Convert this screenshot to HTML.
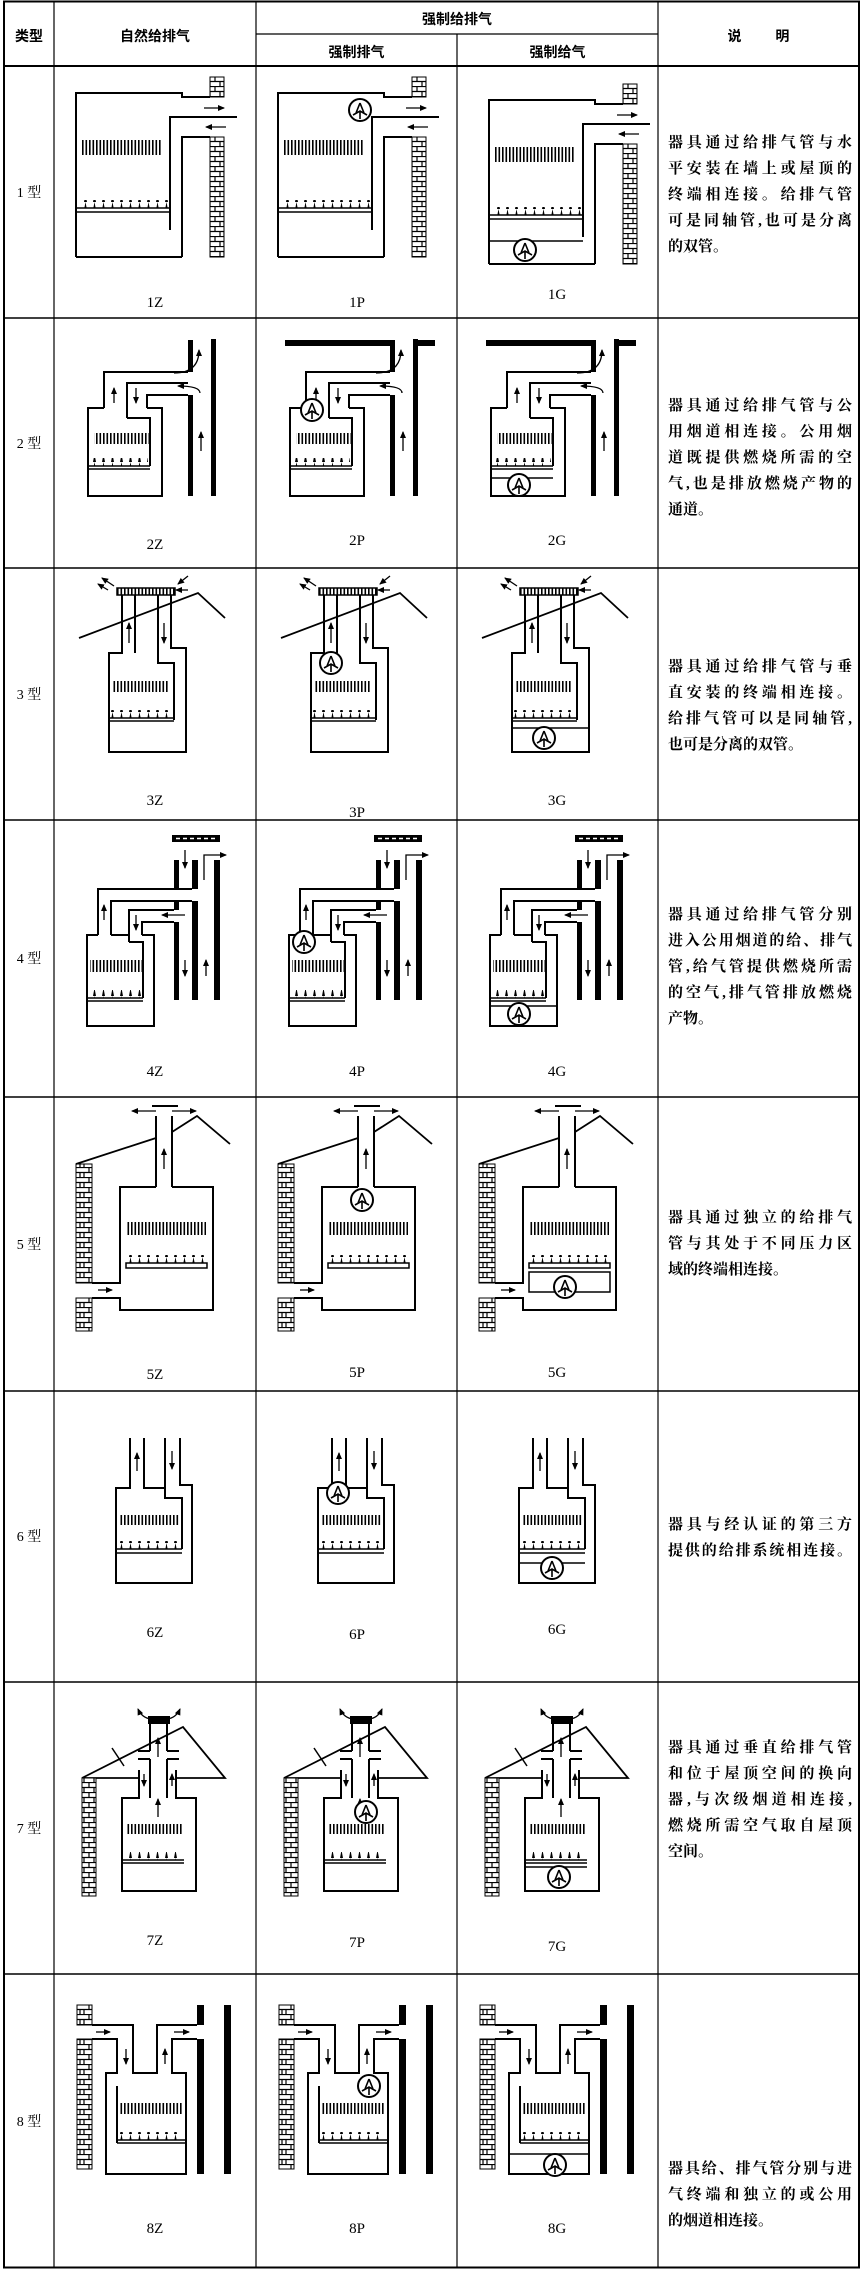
<!DOCTYPE html>
<html><head><meta charset="utf-8">
<style>
html,body{margin:0;padding:0;background:#fff;}
body{width:862px;height:2271px;position:relative;overflow:hidden;font-family:"Liberation Serif","Noto Serif CJK SC",serif;}
svg{position:absolute;left:0;top:0;}
.d{position:absolute;left:668px;width:184px;font-family:"Liberation Serif","Noto Serif CJK SC",serif;font-size:15px;font-weight:bold;line-height:26px;color:#000;}
.d div{white-space:nowrap;}
.j{text-align:justify;text-align-last:justify;}
.h{position:absolute;font-family:"Liberation Sans","Noto Sans CJK SC",sans-serif;font-weight:bold;font-size:14px;text-align:center;}
.t{position:absolute;left:4px;width:50px;text-align:center;font-size:14px;font-family:"Liberation Serif","Noto Serif CJK SC",serif;}
.l{position:absolute;width:60px;text-align:center;font-size:15px;font-family:"Liberation Serif",serif;}
.ar path{stroke:#000;stroke-width:1.3;fill:none;marker-end:url(#a);}
</style></head><body>
<svg width="862" height="2271" viewBox="0 0 862 2271" xmlns="http://www.w3.org/2000/svg">
<defs>
<pattern id="fin" width="3.5" height="40" patternUnits="userSpaceOnUse"><rect width="1.6" height="40" fill="#000"/></pattern>
<pattern id="flm" width="9" height="8" patternUnits="userSpaceOnUse"><path d="M3,8 L4.5,0 L6,8Z" fill="#000"/></pattern>
<pattern id="brk" width="14" height="10" patternUnits="userSpaceOnUse"><rect width="14" height="10" fill="#fff"/><path d="M0,0.5H14M0,5.5H14M7,0V5M2,5V10M12,5V10" stroke="#000" stroke-width="1.2"/></pattern>
<marker id="a" markerWidth="7" markerHeight="6" refX="6" refY="3" orient="auto" markerUnits="userSpaceOnUse"><path d="M0,0L7,3L0,6z" fill="#000"/></marker>
<g id="fan"><circle r="11" fill="#fff" stroke="#000" stroke-width="2"/><path d="M0,-7 L-4,3 M0,-7 L4,3 M-7,5 L0,1 L7,5 M0,1 V9" stroke="#000" stroke-width="1.6" fill="none"/></g>

<g id="r1" fill="none" stroke="#000" stroke-width="2">
<path d="M22,191 V27 H128 V31 H156"/><path d="M116,164 V51 H183"/><path d="M128,191 V71 H156"/><path d="M22,191 H128"/>
<rect x="156" y="11" width="14" height="20" fill="url(#brk)" stroke-width="1"/>
<rect x="156" y="71" width="14" height="120" fill="url(#brk)" stroke-width="1"/>
<rect x="28" y="74" width="80" height="15" fill="url(#fin)" stroke="none"/>
<rect x="24" y="134" width="90" height="8" fill="url(#flm)" stroke="none"/>
<path d="M22,142 H116 M22,146 H116" stroke-width="1.5"/>
<g class="ar"><path d="M150,42 H170"/><path d="M172,61 H152"/></g>
</g>

<g id="r2" fill="none" stroke="#000" stroke-width="2">
<path d="M50,90 H34 V178 H108 V90 H93"/><path d="M50,90 V54 H134"/><path d="M73,100 V65 H134"/><path d="M93,90 V77 H134"/>
<path d="M73,100 H96 V148"/>
<path d="M34,148 H96 M34,151 H96" stroke-width="1.5"/>
<rect x="36" y="140" width="58" height="8" fill="url(#flm)" stroke="none"/>
<rect x="40" y="115" width="55" height="11" fill="url(#fin)" stroke="none"/>
<rect x="134" y="22" width="5" height="32" fill="#000" stroke="none"/>
<rect x="134" y="77" width="5" height="101" fill="#000" stroke="none"/>
<rect x="157" y="21" width="5" height="157" fill="#000" stroke="none"/>
<g class="ar"><path d="M60,85 V70"/><path d="M82,70 V85"/><path d="M147,133 V114"/><path d="M120,55 Q145,55 145,32"/><path d="M146,75 Q146,68 124,68"/></g>
</g>

<g id="r3" fill="none" stroke="#000" stroke-width="2">
<path d="M68,27 V85 H55 V184 H132 V80 H117 V27"/><path d="M81,27 V85"/><path d="M104,27 V95 H120 V152"/>
<path d="M25,70 L144,25 L171,50" stroke-width="1.8"/>
<rect x="63" y="20" width="58" height="7" fill="url(#fin)" stroke-width="1.5"/>
<path d="M55,150 H120 M55,153 H120" stroke-width="1.5"/>
<rect x="57" y="142" width="62" height="8" fill="url(#flm)" stroke="none"/>
<rect x="58" y="113" width="57" height="11" fill="url(#fin)" stroke="none"/>
<g class="ar"><path d="M75,75 V55"/><path d="M110,55 V75"/><path d="M60,18 L48,10"/><path d="M54,22 L44,16"/><path d="M134,8 L124,16"/><path d="M134,22 L122,22"/></g>
</g>

<g id="r4" fill="none" stroke="#000" stroke-width="2">
<path d="M44,115 H33 V206 H100 V115 H88"/><path d="M44,115 V69 H138"/><path d="M57,115 V81 H138"/>
<path d="M75,122 V90 H120"/><path d="M88,115 V102 H120"/><path d="M57,115 H75 M75,122 H89 V178"/>
<path d="M33,178 H89 M33,181 H89" stroke-width="1.5"/>
<rect x="35" y="170" width="52" height="8" fill="url(#flm)" stroke="none"/>
<rect x="36" y="140" width="52" height="12" fill="url(#fin)" stroke="none"/>
<rect x="120" y="40" width="5" height="29" fill="#000" stroke="none"/>
<rect x="120" y="81" width="5" height="9" fill="#000" stroke="none"/>
<rect x="120" y="102" width="5" height="78" fill="#000" stroke="none"/>
<rect x="138" y="40" width="6" height="29" fill="#000" stroke="none"/>
<rect x="138" y="81" width="6" height="99" fill="#000" stroke="none"/>
<rect x="160" y="40" width="6" height="140" fill="#000" stroke="none"/>
<rect x="118" y="15" width="48" height="7" fill="#000" stroke="none"/>
<path d="M122,18.5 H162" stroke="#fff" stroke-width="1.5" stroke-dasharray="4 3"/>
<g class="ar"><path d="M131,30 V48"/><path d="M131,140 V156"/><path d="M152,156 V140"/><path d="M150,60 V35 H172"/><path d="M50,100 V85"/><path d="M82,95 V110"/><path d="M131,95 H108"/></g>
</g>

<g id="r5" fill="none" stroke="#000" stroke-width="2">
<path d="M102,90 V19 M118,90 V19"/><path d="M98,9 H124"/>
<path d="M102,90 H66 V186 H38"/><path d="M38,201 H66 V213 H159 V90 H118"/>
<rect x="22" y="67" width="16" height="119" fill="url(#brk)" stroke-width="1"/>
<rect x="22" y="201" width="16" height="33" fill="url(#brk)" stroke-width="1"/>
<path d="M22,67 L102,41 M118,35 L143,19 L176,47" stroke-width="1.8"/>
<rect x="72" y="125" width="80" height="13" fill="url(#fin)" stroke="none"/>
<rect x="74" y="158" width="78" height="8" fill="url(#flm)" stroke="none"/>
<rect x="72" y="166" width="81" height="5" stroke-width="1.5"/>
<g class="ar"><path d="M102,14 H78"/><path d="M118,14 H142"/><path d="M110,72 V52"/><path d="M44,193 H58"/></g>
</g>

<g id="r6" fill="none" stroke="#000" stroke-width="2">
<path d="M76,47 V97 H62 V192 H138 V94 H126 V47"/><path d="M90,47 V97 H111"/><path d="M111,47 V107 H128 V158"/>
<path d="M62,158 H128 M62,162 H128" stroke-width="1.5"/>
<rect x="64" y="150" width="62" height="8" fill="url(#flm)" stroke="none"/>
<rect x="66" y="124" width="60" height="10" fill="url(#fin)" stroke="none"/>
<g class="ar"><path d="M83,80 V62"/><path d="M118,60 V78"/></g>
</g>

<g id="r7" fill="none" stroke="#000" stroke-width="2">
<rect x="95" y="35" width="20" height="6" fill="#000"/>
<path d="M96,41 V69 M113,41 V69 M84,69 H96 M113,69 H125 M84,77 H96 M113,77 H125"/>
<path d="M96,77 V116 M113,77 V116"/><path d="M85,88 V116 H68 V209 H142 V116 H122 V88"/>
<path d="M28,96 L129,45 L171,96 H122 M85,96 H28" stroke-width="1.8"/>
<path d="M68,178 H130 M68,181 H130" stroke-width="1.5"/>
<rect x="70" y="170" width="58" height="8" fill="url(#flm)" stroke="none"/>
<rect x="73" y="142" width="55" height="10" fill="url(#fin)" stroke="none"/>
<rect x="28" y="96" width="14" height="118" fill="url(#brk)" stroke-width="1"/>
<path d="M58,66 L70,84" stroke-width="1.5"/>
<g class="ar"><path d="M97,37 Q88,36 84,27"/><path d="M113,37 Q122,36 126,27"/><path d="M104,75 V56"/><path d="M104,135 V117"/><path d="M90,92 V104"/><path d="M118,104 V92"/></g>
</g>

<g id="r8" fill="none" stroke="#000" stroke-width="2">
<path d="M38,51 H79 V99 H103 V51 H143"/><path d="M38,65 H63 V99 H52 V200 H132 V99 H118 V65 H143"/><path d="M63,112 V169"/>
<path d="M63,166 H131 M63,169 H131" stroke-width="1.5"/>
<rect x="65" y="158" width="64" height="8" fill="url(#flm)" stroke="none"/>
<rect x="66" y="129" width="62" height="11" fill="url(#fin)" stroke="none"/>
<rect x="23" y="31" width="15" height="20" fill="url(#brk)" stroke-width="1"/>
<rect x="23" y="65" width="15" height="130" fill="url(#brk)" stroke-width="1"/>
<rect x="143" y="31" width="7" height="20" fill="#000" stroke="none"/>
<rect x="143" y="65" width="7" height="135" fill="#000" stroke="none"/>
<rect x="170" y="31" width="7" height="169" fill="#000" stroke="none"/>
<g class="ar"><path d="M42,58 H56"/><path d="M72,75 V90"/><path d="M111,90 V75"/><path d="M120,58 H135"/></g>
</g>
</defs>

<g stroke="#000" fill="none">
<rect x="4" y="1.5" width="855" height="2266" stroke-width="2"/>
<path d="M54,1 V2268 M256,1 V2268 M457,34 V2268 M658,1 V2268" stroke-width="1.2"/>
<path d="M256,34 H658" stroke-width="1.2"/>
<path d="M4,66 H859" stroke-width="2"/>
<path d="M4,318 H859 M4,568 H859 M4,820 H859 M4,1097 H859 M4,1391 H859 M4,1682 H859 M4,1974 H859" stroke-width="1.5"/>
</g>

<use href="#r1" x="54" y="66"/>
<use href="#r1" x="256" y="66"/><use href="#fan" x="360" y="110"/>
<use href="#r1" x="467" y="73"/><path d="M489,241 H583" stroke="#000" stroke-width="1.5"/><use href="#fan" x="525" y="250"/>
<use href="#r2" x="54" y="318"/>
<use href="#r2" x="256" y="318"/><rect x="285" y="340" width="110" height="6" fill="#000"/><rect x="413" y="340" width="22" height="6" fill="#000"/><use href="#fan" x="312" y="410"/>
<use href="#r2" x="457" y="318"/><rect x="486" y="340" width="110" height="6" fill="#000"/><rect x="614" y="340" width="22" height="6" fill="#000"/><path d="M491,478 H553" stroke="#000" stroke-width="1.5"/><use href="#fan" x="519" y="485"/>
<use href="#r3" x="54" y="568"/>
<use href="#r3" x="256" y="568"/><use href="#fan" x="331" y="663"/>
<use href="#r3" x="457" y="568"/><path d="M512,728 H589" stroke="#000" stroke-width="1.5"/><use href="#fan" x="544" y="738"/>
<use href="#r4" x="54" y="820"/>
<use href="#r4" x="256" y="820"/><use href="#fan" x="304" y="942"/>
<use href="#r4" x="457" y="820"/><path d="M490,1006 H557" stroke="#000" stroke-width="1.5"/><use href="#fan" x="519" y="1014"/>
<use href="#r5" x="54" y="1097"/>
<use href="#r5" x="256" y="1097"/><use href="#fan" x="362" y="1200"/>
<use href="#r5" x="457" y="1097"/><rect x="529" y="1272" width="81" height="20" fill="none" stroke="#000" stroke-width="1.5"/><use href="#fan" x="565" y="1287"/>
<use href="#r6" x="54" y="1391"/>
<use href="#r6" x="256" y="1391"/><use href="#fan" x="338" y="1493"/>
<use href="#r6" x="457" y="1391"/><path d="M519,1563 H585" stroke="#000" stroke-width="1.5"/><use href="#fan" x="552" y="1568"/>
<use href="#r7" x="54" y="1682"/>
<use href="#r7" x="256" y="1682"/><use href="#fan" x="366" y="1812"/>
<use href="#r7" x="457" y="1682"/><path d="M525,1867 H587" stroke="#000" stroke-width="1.5"/><use href="#fan" x="559" y="1877"/>
<use href="#r8" x="54" y="1974"/>
<use href="#r8" x="256" y="1974"/><use href="#fan" x="369" y="2086"/>
<use href="#r8" x="457" y="1974"/><path d="M509,2154 H589" stroke="#000" stroke-width="1.5"/><use href="#fan" x="555" y="2165"/>
</svg>

<div class="h" style="left:4px;width:50px;top:26px;">类型</div>
<div class="h" style="left:54px;width:202px;top:26px;">自然给排气</div>
<div class="h" style="left:256px;width:402px;top:9px;">强制给排气</div>
<div class="h" style="left:256px;width:201px;top:42px;">强制排气</div>
<div class="h" style="left:457px;width:201px;top:42px;">强制给气</div>
<div class="h" style="left:658px;width:201px;top:26px;word-spacing:30px;">说 明</div>

<div class="t" style="top:182px;">1 型</div>
<div class="t" style="top:433px;">2 型</div>
<div class="t" style="top:684px;">3 型</div>
<div class="t" style="top:948px;">4 型</div>
<div class="t" style="top:1234px;">5 型</div>
<div class="t" style="top:1526px;">6 型</div>
<div class="t" style="top:1818px;">7 型</div>
<div class="t" style="top:2111px;">8 型</div>

<div class="l" style="left:125px;top:295px;">1Z</div><div class="l" style="left:327px;top:295px;">1P</div><div class="l" style="left:527px;top:287px;">1G</div>
<div class="l" style="left:125px;top:537px;">2Z</div><div class="l" style="left:327px;top:533px;">2P</div><div class="l" style="left:527px;top:533px;">2G</div>
<div class="l" style="left:125px;top:793px;">3Z</div><div class="l" style="left:327px;top:805px;">3P</div><div class="l" style="left:527px;top:793px;">3G</div>
<div class="l" style="left:125px;top:1064px;">4Z</div><div class="l" style="left:327px;top:1064px;">4P</div><div class="l" style="left:527px;top:1064px;">4G</div>
<div class="l" style="left:125px;top:1367px;">5Z</div><div class="l" style="left:327px;top:1365px;">5P</div><div class="l" style="left:527px;top:1365px;">5G</div>
<div class="l" style="left:125px;top:1625px;">6Z</div><div class="l" style="left:327px;top:1627px;">6P</div><div class="l" style="left:527px;top:1622px;">6G</div>
<div class="l" style="left:125px;top:1933px;">7Z</div><div class="l" style="left:327px;top:1935px;">7P</div><div class="l" style="left:527px;top:1939px;">7G</div>
<div class="l" style="left:125px;top:2221px;">8Z</div><div class="l" style="left:327px;top:2221px;">8P</div><div class="l" style="left:527px;top:2221px;">8G</div>

<div class="d" style="top:130px;"><div class="j">器具通过给排气管与水</div><div class="j">平安装在墙上或屋顶的</div><div class="j">终端相连接。给排气管</div><div class="j">可是同轴管,也可是分离</div><div>的双管。</div></div>
<div class="d" style="top:393px;"><div class="j">器具通过给排气管与公</div><div class="j">用烟道相连接。公用烟</div><div class="j">道既提供燃烧所需的空</div><div class="j">气,也是排放燃烧产物的</div><div>通道。</div></div>
<div class="d" style="top:654px;"><div class="j">器具通过给排气管与垂</div><div class="j">直安装的终端相连接。</div><div class="j">给排气管可以是同轴管,</div><div>也可是分离的双管。</div></div>
<div class="d" style="top:902px;"><div class="j">器具通过给排气管分别</div><div class="j">进入公用烟道的给、排气</div><div class="j">管,给气管提供燃烧所需</div><div class="j">的空气,排气管排放燃烧</div><div>产物。</div></div>
<div class="d" style="top:1205px;"><div class="j">器具通过独立的给排气</div><div class="j">管与其处于不同压力区</div><div>域的终端相连接。</div></div>
<div class="d" style="top:1512px;"><div class="j">器具与经认证的第三方</div><div class="j">提供的给排系统相连接。</div></div>
<div class="d" style="top:1735px;"><div class="j">器具通过垂直给排气管</div><div class="j">和位于屋顶空间的换向</div><div class="j">器,与次级烟道相连接,</div><div class="j">燃烧所需空气取自屋顶</div><div>空间。</div></div>
<div class="d" style="top:2156px;"><div class="j">器具给、排气管分别与进</div><div class="j">气终端和独立的或公用</div><div>的烟道相连接。</div></div>
</body></html>
